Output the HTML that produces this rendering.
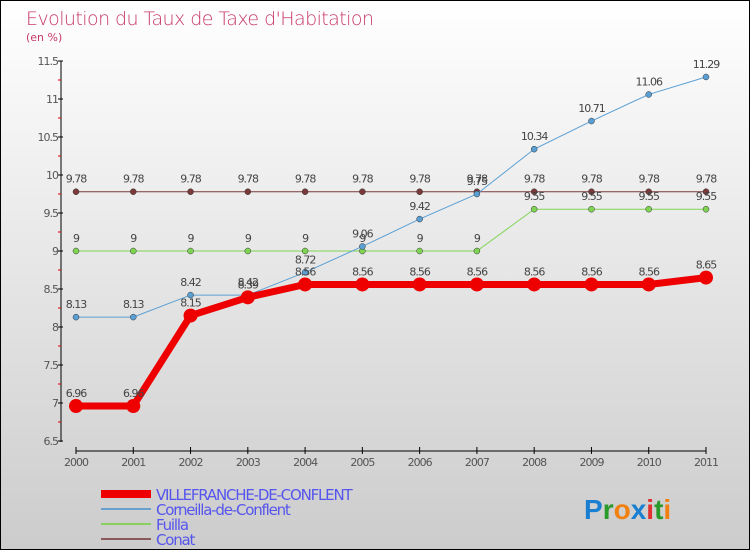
<!DOCTYPE html>
<html><head><meta charset="utf-8"><style>
body{margin:0}
#c{width:748px;height:548px;border:1px solid #000;background:linear-gradient(#fff,#ccc);position:relative;font-family:"DejaVu Sans","Liberation Sans",sans-serif;overflow:hidden}
svg{position:absolute;left:0;top:0}
</style></head><body>
<div id="c">
<svg id="s" width="748" height="548">
<text x="25" y="24" font-size="19" fill="#c8386a" font-family="DejaVu Sans" style="font-weight:200" textLength="348">Evolution du Taux de Taxe d'Habitation</text>
<text x="25" y="40" font-size="11" fill="#c8386a">(en %)</text>
</svg>
</div>
<script>
const years=["2000","2001","2002","2003","2004","2005","2006","2007","2008","2009","2010","2011"];
const villefranche=[6.96,6.96,8.15,8.39,8.56,8.56,8.56,8.56,8.56,8.56,8.56,8.65];
const corneilla=[8.13,8.13,8.42,8.42,8.72,9.06,9.42,9.75,10.34,10.71,11.06,11.29];
const fuilla=[9,9,9,9,9,9,9,9,9.55,9.55,9.55,9.55];
const conat=[9.78,9.78,9.78,9.78,9.78,9.78,9.78,9.78,9.78,9.78,9.78,9.78];
const yTicks=[6.5,7,7.5,8,8.5,9,9.5,10,10.5,11,11.5];
const NS="http://www.w3.org/2000/svg",s=document.getElementById('s');
const X=i=>75+i*(630/11), Y=v=>440-(v-6.5)*76;
function el(t,a,p){const e=document.createElementNS(NS,t);for(const k in a)e.setAttribute(k,a[k]);(p||s).appendChild(e);return e;}
let e=el('line',{x1:60,y1:60,x2:60,y2:441,stroke:'#000'});

e=el('line',{x1:75,y1:450,x2:705,y2:450,stroke:'#000'});

yTicks.forEach((v,i)=>{
 el('line',{x1:57,y1:Y(v),x2:62,y2:Y(v),stroke:'#000'});
 if(i<yTicks.length-1)el('line',{x1:57,y1:Y(v+0.25),x2:60,y2:Y(v+0.25),stroke:'#d00'});
 const t=el('text',{x:57,y:Y(v)+4,'font-size':11,fill:'#555','text-anchor':'end','letter-spacing':'-1'});t.textContent=String(v);
 
});
years.forEach((y,i)=>{
 el('line',{x1:X(i),y1:446,x2:X(i),y2:453,stroke:'#000'});
 const t=el('text',{x:X(i),y:465,'font-size':11,fill:'#555','text-anchor':'middle','letter-spacing':'-1'});t.textContent=y;
 
});
function series(d,col,w,r,name){
 const g=el('g',{});
 el('polyline',{points:d.map((v,i)=>X(i)+','+Y(v)).join(' '),fill:'none',stroke:col,'stroke-width':w},g);
 d.forEach((v,i)=>{
  const c=el('circle',{cx:X(i),cy:Y(v),r:r,fill:col,stroke:r<5?'#333':'none','stroke-width':0.5},g);
  
  const t=el('text',{x:X(i),y:Y(v)-9,'font-size':11,fill:'#444','text-anchor':'middle','letter-spacing':'-1'},g);t.textContent=String(v);
 });
}
series(conat,'#7a3a3a',1,3,'conat-series');
series(fuilla,'#7fd454',1,3,'fuilla-series');
series(corneilla,'#5a9fd4',1,3,'corneilla-series');
series(villefranche,'#ee0000',7,7,'villefranche-series');
const leg=[['VILLEFRANCHE-DE-CONFLENT','#ee0000',8],['Corneilla-de-Conflent','#6aa0d0',2],['Fuilla','#8ad060',2],['Conat','#8a5a5a',2]];
leg.forEach((l,i)=>{
 const y=493+i*15;
 const g=el('g',{});
 el('line',{x1:100,y1:y,x2:150,y2:y,stroke:l[1],'stroke-width':l[2]},g);
 const t=el('text',{x:155,y:y+6,'font-size':15,fill:'#5555ee','letter-spacing':'-1.2'},g);t.textContent=l[0];
});
const lg=el('text',{x:583,y:518,'font-size':28,'font-weight':'bold','font-family':'Liberation Sans'});

[['P','#1a7fd0'],['r','#2a9a2a'],['o','#f08010'],['x','#1a7fd0'],['i','#e03030'],['t','#2a9a2a'],['i','#f08010']].forEach(p=>{el('tspan',{fill:p[1]},lg).textContent=p[0];});
</script>
</body></html>
